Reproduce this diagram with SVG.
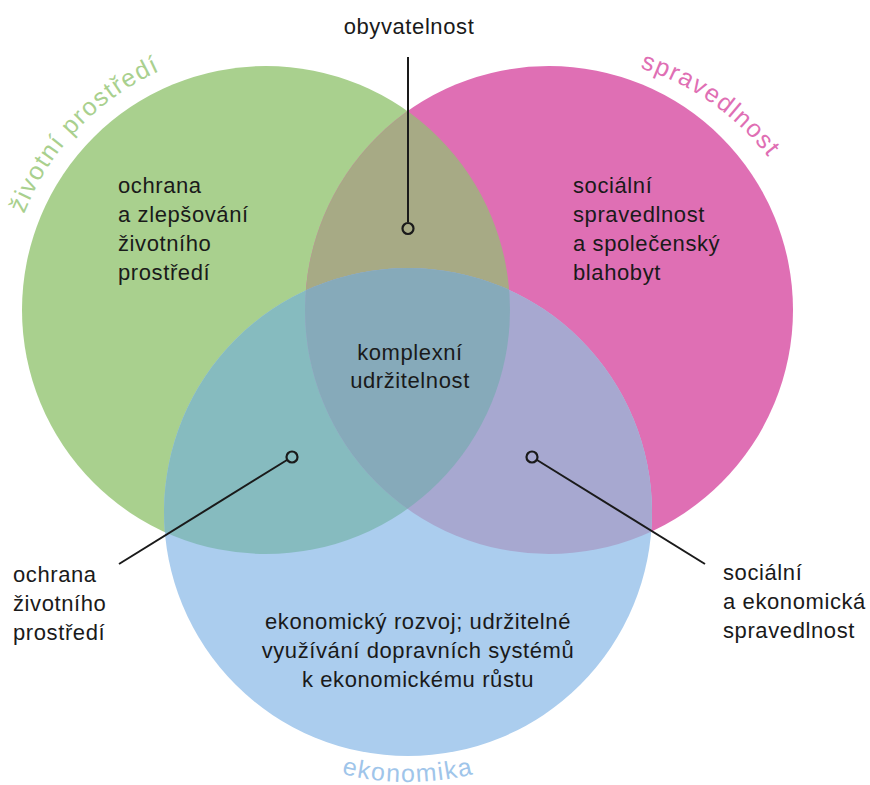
<svg xmlns="http://www.w3.org/2000/svg" width="870" height="785" viewBox="0 0 870 785">
<style>
.t{font-family:"Liberation Sans",Arial,sans-serif;font-size:22px;letter-spacing:0.6px;fill:#1a1a1a}
.c{text-anchor:middle}
.arc{font-family:"Liberation Sans",Arial,sans-serif;font-size:25px;letter-spacing:1.5px}
.ld{stroke:#1a1a1a;stroke-width:2;fill:none}
.dot{stroke:#1a1a1a;stroke-width:2.2;fill:none}
</style>
<defs>
<clipPath id="cg"><circle cx="266" cy="310" r="244"/></clipPath>
<clipPath id="cp"><circle cx="549" cy="310" r="244"/></clipPath>
<path id="pg" d="M 24 214 A 262 262 0 0 1 182 62"/>
<path id="pp" d="M 640 68 A 260 260 0 0 1 795 200"/>
<path id="pb" d="M 138 512 A 270 270 0 0 0 678 512"/>
</defs>
<g id="circles">
<circle id="green" cx="266" cy="310" r="244" fill="#a9d08e"/>
<circle id="pink" cx="549" cy="310" r="244" fill="#df6fb4"/>
<circle id="blue" cx="408" cy="512" r="244" fill="#abcdee"/>
<circle cx="549" cy="310" r="244" fill="#a7aa85" clip-path="url(#cg)"/>
<circle cx="408" cy="512" r="244" fill="#86bbbf" clip-path="url(#cg)"/>
<circle cx="408" cy="512" r="244" fill="#a7a8d0" clip-path="url(#cp)"/>
<g clip-path="url(#cg)"><circle cx="408" cy="512" r="244" fill="#86aaba" clip-path="url(#cp)"/></g>
</g>
<g id="circle-labels">
<text class="arc" fill="#a9d08e"><textPath href="#pg">životní prostředí</textPath></text>
<text class="arc" fill="#df6fb4"><textPath href="#pp">spravedlnost</textPath></text>
<text class="arc" fill="#9fc5ea" text-anchor="middle"><textPath href="#pb" startOffset="50%">ekonomika</textPath></text>
</g>
<g id="connectors">
<line class="ld" x1="408" y1="57" x2="408" y2="222"/>
<circle class="dot" cx="408" cy="228.5" r="5.5"/>
<line class="ld" x1="287" y1="460" x2="119" y2="564"/>
<circle class="dot" cx="292" cy="457" r="5.5"/>
<line class="ld" x1="537" y1="460" x2="705" y2="564"/>
<circle class="dot" cx="532" cy="457" r="5.5"/>
</g>
<g id="n-obyvatelnost"><text class="t c" x="409" y="34">obyvatelnost</text></g>
<g id="n-zp"><text class="t" x="118" y="193">ochrana</text><text class="t" x="118" y="222">a zlepšování</text><text class="t" x="118" y="251">životního</text><text class="t" x="118" y="280">prostředí</text></g>
<g id="n-soc"><text class="t" x="573" y="193">sociální</text><text class="t" x="573" y="222">spravedlnost</text><text class="t" x="573" y="251">a společenský</text><text class="t" x="573" y="280">blahobyt</text></g>
<g id="n-center"><text class="t c" x="410" y="360">komplexní</text><text class="t c" x="410" y="388">udržitelnost</text></g>
<g id="n-eko"><text class="t c" x="418" y="629">ekonomický rozvoj; udržitelné</text><text class="t c" x="418" y="658">využívání dopravních systémů</text><text class="t c" x="418" y="687">k ekonomickému růstu</text></g>
<g id="n-left"><text class="t" x="13" y="582">ochrana</text><text class="t" x="13" y="611">životního</text><text class="t" x="13" y="640">prostředí</text></g>
<g id="n-right"><text class="t" x="723" y="580">sociální</text><text class="t" x="723" y="609">a ekonomická</text><text class="t" x="723" y="638">spravedlnost</text></g>
</svg>
